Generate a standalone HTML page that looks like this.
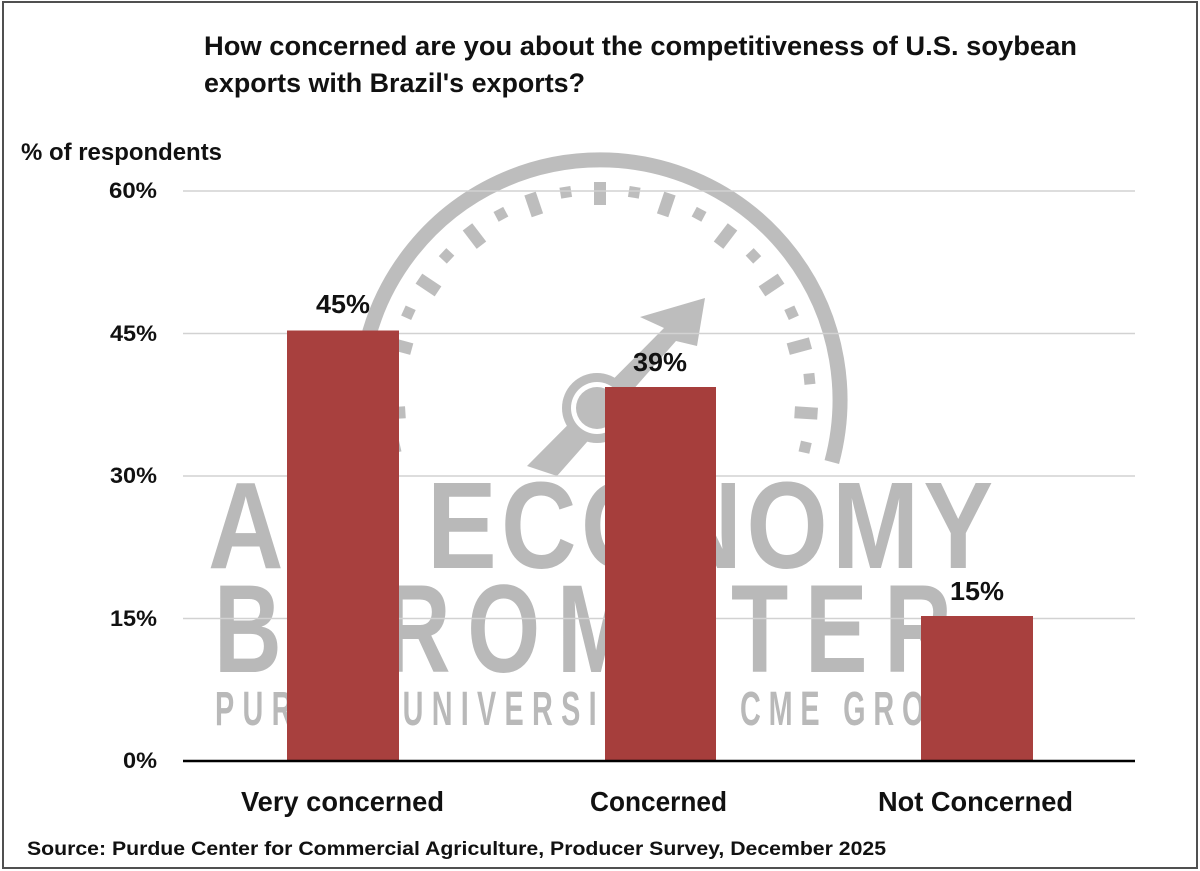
<!DOCTYPE html>
<html>
<head>
<meta charset="utf-8">
<style>
  html, body { margin: 0; padding: 0; background: #ffffff; }
  body { width: 1200px; height: 871px; overflow: hidden; }
  svg { display: block; }
  .t { font-family: "Liberation Sans", Arial, sans-serif; font-weight: bold; fill: #111; }
  .wm { font-family: "Liberation Sans", Arial, sans-serif; font-weight: bold; fill: #b9b9b9; }
</style>
</head>
<body>
<svg width="1200" height="871" viewBox="0 0 1200 871" xmlns="http://www.w3.org/2000/svg">
  <rect x="0" y="0" width="1200" height="871" fill="#ffffff"/>

  <!-- Watermark gauge -->
  <g fill="#bdbdbd">
    <path d="M 368.2 462.1 A 240 240 0 1 1 831.8 462.1" fill="none" stroke="#bdbdbd" stroke-width="15"/>
    <g transform="translate(600,400)">
      <rect x="-6" y="-218" width="12" height="23" transform="rotate(0)"/>
      <rect x="-5.5" y="-216" width="11" height="11" transform="rotate(9.36)"/>
      <rect x="-6" y="-218" width="12" height="23" transform="rotate(18.72)"/>
      <rect x="-5.5" y="-216" width="11" height="11" transform="rotate(28.08)"/>
      <rect x="-6" y="-218" width="12" height="23" transform="rotate(37.44)"/>
      <rect x="-5.5" y="-216" width="11" height="11" transform="rotate(46.8)"/>
      <rect x="-6" y="-218" width="12" height="23" transform="rotate(56.16)"/>
      <rect x="-5.5" y="-216" width="11" height="11" transform="rotate(65.52)"/>
      <rect x="-6" y="-218" width="12" height="23" transform="rotate(74.88)"/>
      <rect x="-5.5" y="-216" width="11" height="11" transform="rotate(84.24)"/>
      <rect x="-6" y="-218" width="12" height="23" transform="rotate(93.6)"/>
      <rect x="-5.5" y="-216" width="11" height="11" transform="rotate(102.96)"/>
      <rect x="-5.5" y="-216" width="11" height="11" transform="rotate(-9.36)"/>
      <rect x="-6" y="-218" width="12" height="23" transform="rotate(-18.72)"/>
      <rect x="-5.5" y="-216" width="11" height="11" transform="rotate(-28.08)"/>
      <rect x="-6" y="-218" width="12" height="23" transform="rotate(-37.44)"/>
      <rect x="-5.5" y="-216" width="11" height="11" transform="rotate(-46.8)"/>
      <rect x="-6" y="-218" width="12" height="23" transform="rotate(-56.16)"/>
      <rect x="-5.5" y="-216" width="11" height="11" transform="rotate(-65.52)"/>
      <rect x="-6" y="-218" width="12" height="23" transform="rotate(-74.88)"/>
      <rect x="-5.5" y="-216" width="11" height="11" transform="rotate(-84.24)"/>
      <rect x="-6" y="-218" width="12" height="23" transform="rotate(-93.6)"/>
      <rect x="-5.5" y="-216" width="11" height="11" transform="rotate(-102.96)"/>
    </g>
    <polygon points="527,466 664,328 640,317 705,298 697,346 676,341 557,476"/>
    <circle cx="597" cy="408" r="35"/>
    <circle cx="597" cy="408" r="26" fill="#ffffff"/>
    <circle cx="597" cy="408" r="21"/>
  </g>

  <!-- Watermark text (condensed, spaced) -->
  <text class="wm" transform="translate(208,568) scale(0.85,1)" x="0" y="0" font-size="123" textLength="218" lengthAdjust="spacing">AG</text>
  <text class="wm" transform="translate(427,568) scale(0.85,1)" x="0" y="0" font-size="123" textLength="666" lengthAdjust="spacing">ECONOMY</text>
  <text class="wm" transform="translate(214,672) scale(0.75,1)" x="0" y="0" font-size="125" textLength="984" lengthAdjust="spacing">BAROMETER</text>
  <text class="wm" transform="translate(215,725) scale(0.6,1)" x="0" y="0" font-size="48" textLength="725" lengthAdjust="spacing">PURDUE UNIVERSITY</text>
  <text class="wm" transform="translate(740,725) scale(0.6,1)" x="0" y="0" font-size="48" textLength="400" lengthAdjust="spacing">CME GROUP</text>

  <!-- Gridlines -->
  <g stroke="#d2d2d2" stroke-width="1.5">
    <line x1="183" y1="191" x2="1135" y2="191"/>
    <line x1="183" y1="333.5" x2="1135" y2="333.5"/>
    <line x1="183" y1="476" x2="1135" y2="476"/>
    <line x1="183" y1="618.5" x2="1135" y2="618.5"/>
  </g>

  <!-- Bars -->
  <rect x="287" y="330.5" width="112" height="430.5" fill="#a8403e"/>
  <rect x="605" y="387" width="111" height="374" fill="#a63e3c"/>
  <rect x="921" y="616" width="112" height="145" fill="#a8403e"/>

  <!-- Axis line -->
  <line x1="183" y1="761" x2="1135" y2="761" stroke="#000" stroke-width="2.5"/>

  <!-- Title -->
  <text class="t" x="204" y="55" font-size="27" textLength="873" lengthAdjust="spacingAndGlyphs">How concerned are you about the competitiveness of U.S. soybean</text>
  <text class="t" x="204" y="92" font-size="27" textLength="381" lengthAdjust="spacingAndGlyphs">exports with Brazil's exports?</text>

  <!-- Y axis title -->
  <text class="t" x="21" y="160" font-size="24" textLength="201" lengthAdjust="spacingAndGlyphs">% of respondents</text>

  <!-- Y tick labels -->
  <text class="t" x="157" y="198" font-size="22" text-anchor="end" textLength="48" lengthAdjust="spacingAndGlyphs">60%</text>
  <text class="t" x="157" y="341" font-size="22" text-anchor="end" textLength="47" lengthAdjust="spacingAndGlyphs">45%</text>
  <text class="t" x="157" y="483" font-size="22" text-anchor="end" textLength="47" lengthAdjust="spacingAndGlyphs">30%</text>
  <text class="t" x="157" y="626" font-size="22" text-anchor="end" textLength="47" lengthAdjust="spacingAndGlyphs">15%</text>
  <text class="t" x="157" y="768" font-size="22" text-anchor="end" textLength="34" lengthAdjust="spacingAndGlyphs">0%</text>

  <!-- Data labels -->
  <text class="t" x="343" y="313" font-size="26" text-anchor="middle" textLength="54" lengthAdjust="spacingAndGlyphs">45%</text>
  <text class="t" x="660" y="371" font-size="26" text-anchor="middle" textLength="54" lengthAdjust="spacingAndGlyphs">39%</text>
  <text class="t" x="977" y="600" font-size="26" text-anchor="middle" textLength="54" lengthAdjust="spacingAndGlyphs">15%</text>

  <!-- X labels -->
  <text class="t" x="241" y="811" font-size="28" textLength="203" lengthAdjust="spacingAndGlyphs">Very concerned</text>
  <text class="t" x="590" y="811" font-size="28" textLength="137" lengthAdjust="spacingAndGlyphs">Concerned</text>
  <text class="t" x="878" y="811" font-size="28" textLength="195" lengthAdjust="spacingAndGlyphs">Not Concerned</text>

  <!-- Source -->
  <text class="t" x="27" y="855" font-size="19" textLength="859" lengthAdjust="spacingAndGlyphs">Source: Purdue Center for Commercial Agriculture, Producer Survey, December 2025</text>

  <!-- Border -->
  <rect x="3" y="2" width="1194" height="866" fill="none" stroke="#505050" stroke-width="2"/>
</svg>
</body>
</html>
